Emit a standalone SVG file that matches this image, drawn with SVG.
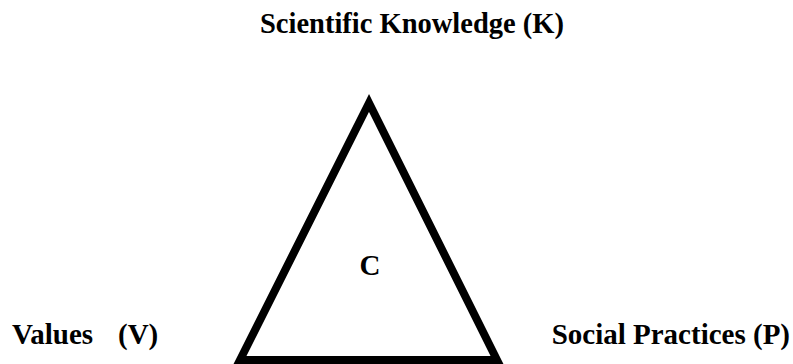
<svg xmlns="http://www.w3.org/2000/svg" width="793" height="364" viewBox="0 0 793 364">
<style>
.t{font-family:"Liberation Serif","Times New Roman",serif;font-weight:bold;font-size:29px;fill:#000}
.tri{fill:#fff;stroke:#000;stroke-width:8;stroke-linejoin:miter;stroke-miterlimit:10}
</style>
<rect width="793" height="364" fill="#fff"/>
<g id="connectors"></g>
<g id="triangle">
<polygon class="tri" points="369,103 240,360 497,360"/>
<text class="t" x="370" y="275" text-anchor="middle">C</text>
</g>
<g id="knowledge"><text class="t" x="260" y="33" style="font-size:28.5px">Scientific Knowledge (K)</text></g>
<g id="values"><text class="t" x="12" y="344">Values<tspan x="118">(V)</tspan></text></g>
<g id="practices"><text class="t" x="790" y="344" text-anchor="end">Social Practices (P)</text></g>
</svg>
